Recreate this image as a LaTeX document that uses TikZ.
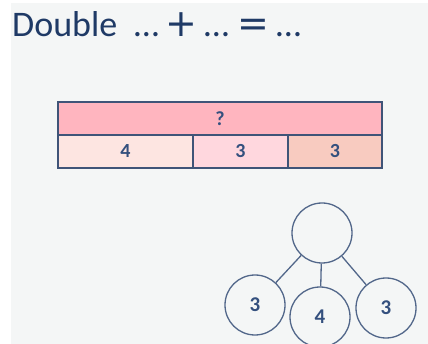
\documentclass[tikz,border=0pt]{standalone}
\usepackage{fontspec}
\setmainfont{Carlito}
\newfontfamily\symfont{DejaVu Sans}
\definecolor{bg}{HTML}{F4F6F6}
\definecolor{ink}{HTML}{1F3A66}
\definecolor{dig}{HTML}{34507E}
\definecolor{edge}{HTML}{3F5478}
\definecolor{cedge}{HTML}{52678A}
\definecolor{ctop}{HTML}{FFB5BF}
\definecolor{cA}{HTML}{FDE5E1}
\definecolor{cB}{HTML}{FFD7DE}
\definecolor{cC}{HTML}{F8CBC0}
\newcommand{\bigop}[1]{{\symfont\fontsize{38}{38}\selectfont #1}}
\tikzset{
  cell/.style={draw=edge, line width=1.4pt, inner sep=0pt, text=dig, font=\bfseries\fontsize{20}{20}\selectfont},
  bub/.style={circle, draw=cedge, line width=1.3pt, minimum size=60pt, inner sep=0pt, text=dig, font=\bfseries\fontsize{21}{21}\selectfont},
  link/.style={draw=cedge, line width=1.3pt}
}
\begin{document}
\begin{tikzpicture}[x=1pt,y=-1pt]
\useasboundingbox (0,0) rectangle (428,344);
\fill[white] (0,0) rectangle (428,344);
\fill[bg] (11,3) rectangle (428,344);
\node[anchor=base west, inner sep=0pt, text=ink, font=\fontsize{36}{36}\selectfont] (title) at (12,37)
  {\makebox[122pt][l]{Double}\makebox[31pt][l]{…}\makebox[39pt][l]{\bigop{+}}\makebox[33pt][l]{…}\makebox[39pt][l]{\bigop{=}}…};
% bar model
\node[cell, fill=ctop, minimum width=324pt, minimum height=33pt] (top) at (220,118.5) {?};
\node[cell, fill=cA, minimum width=135pt, minimum height=33pt] (c1) at (125.5,151.5) {4};
\node[cell, fill=cB, minimum width=95pt, minimum height=33pt] (c2) at (240.5,151.5) {3};
\node[cell, fill=cC, minimum width=94pt, minimum height=33pt] (c3) at (335,151.5) {3};
% part-whole
\node[bub] (whole) at (322,233) {};
\node[bub] (pl) at (255,305) {3};
\node[bub] (pm) at (320,317) {4};
\node[bub] (pr) at (386,308) {3};
\draw[link] (whole) -- (pl);
\draw[link] (whole) -- (pm);
\draw[link] (whole) -- (pr);
\end{tikzpicture}
\end{document}
